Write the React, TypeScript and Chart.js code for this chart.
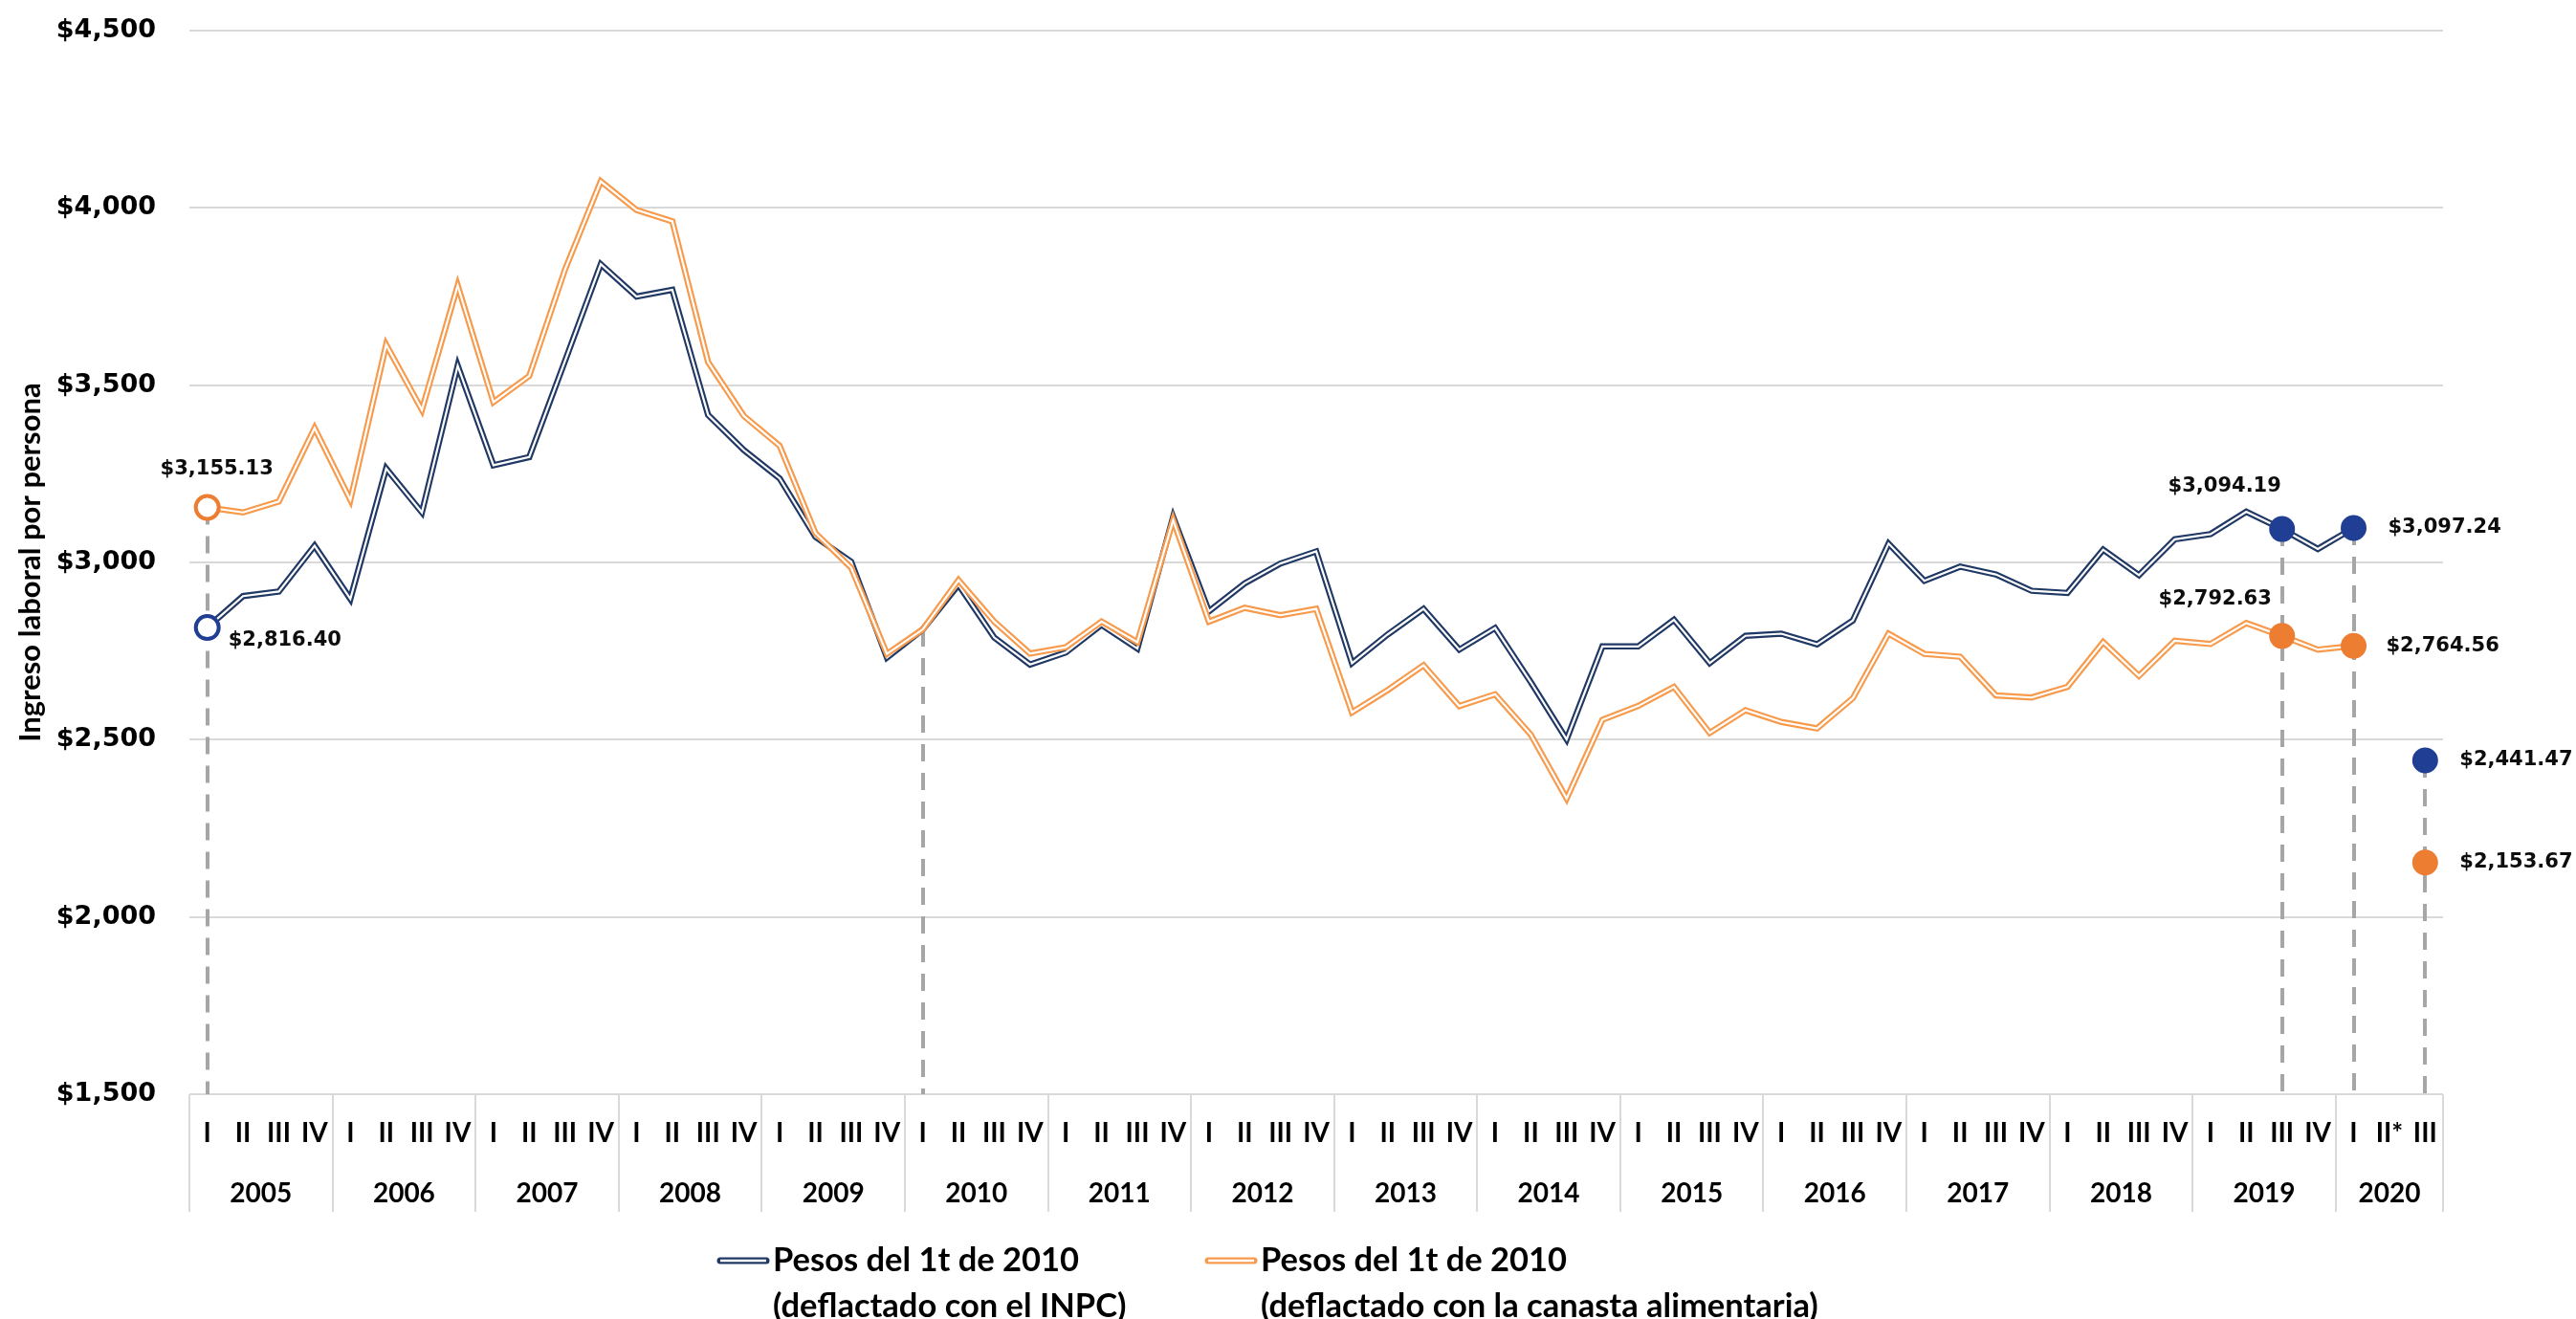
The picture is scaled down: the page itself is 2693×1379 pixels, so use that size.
import React, { useEffect, useRef } from 'react';
import { Chart, registerables } from 'chart.js';

Chart.register(...registerables);

const W = 2693;
const H = 1379;

// ---------- data ----------
const years = ['2005', '2006', '2007', '2008', '2009', '2010', '2011', '2012', '2013', '2014', '2015', '2016', '2017', '2018', '2019', '2020'];
const quarterNames = ['I', 'II', 'III', 'IV'];
const lastYearQuarters = ['I', 'II*', 'III'];

// Pesos del 1t de 2010 (deflactado con el INPC)
const inpcValues: (number | null)[] = [
  2816.40, 2905, 2918, 3047,
  2897, 3265, 3141, 3555,
  3274, 3297, 3568, 3841,
  3750, 3769, 3416, 3317,
  3237, 3072, 3002, 2732,
  2811, 2937, 2788, 2712,
  2746, 2824, 2757, 3128,
  2862, 2941, 2997, 3031,
  2716, 2797, 2869, 2754,
  2815, 2662, 2501, 2763,
  2763, 2838, 2716, 2793,
  2799, 2769, 2836, 3053,
  2948, 2988, 2966, 2920,
  2914, 3036, 2964, 3065,
  3080, 3143, 3094.19, 3038,
  3097.24, null, 2441.47,
];

// Pesos del 1t de 2010 (deflactado con la canasta alimentaria)
const canastaValues: (number | null)[] = [
  3155.13, 3141, 3172, 3379,
  3176, 3614, 3430, 3781,
  3452, 3526, 3826, 4075,
  3994, 3962, 3565, 3413,
  3329, 3083, 2985, 2742,
  2811, 2950, 2833, 2743,
  2761, 2833, 2775, 3119,
  2833, 2872, 2851, 2869,
  2577, 2640, 2710, 2595,
  2628, 2514, 2334, 2556,
  2595, 2649, 2519, 2583,
  2550, 2532, 2617, 2799,
  2742, 2734, 2625, 2619,
  2649, 2775, 2680, 2779,
  2770, 2829, 2792.63, 2754,
  2764.56, null, 2153.67,
];

const yMin = 1500;
const yMax = 4500;
const yStep = 500;

const axisTitle = 'Ingreso laboral por persona';
const seriesLegend = [
  ['Pesos del 1t de 2010', '(deflactado con el INPC)'],
  ['Pesos del 1t de 2010', '(deflactado con la canasta alimentaria)'],
];
const markedPoints = [0, 58, 60, 62];
const hollowPoints = [0];
const dropLinePoints = [0, 20, 58, 60, 62];

// ---------- derived category table ----------
const quarterLabels: string[] = [];
const yearOfLabel: string[] = [];
years.forEach((yr, k) => {
  const qs = k === years.length - 1 ? lastYearQuarters : quarterNames;
  qs.forEach((q) => {
    quarterLabels.push(q);
    yearOfLabel.push(yr);
  });
});

// ---------- styles ----------
const NAVY_LINE = '#1F3864';
const NAVY_MARK = '#203F94';
const ORANGE_LINE = '#F79A4C';
const ORANGE_MARK = '#ED7D31';
const GRID = '#D9D9D9';
const DROP = '#A6A6A6';
const LATO = 'Lato, "Liberation Sans", sans-serif';
const DEJAVU = '"DejaVu Sans", Verdana, sans-serif';

const labelPlacements = [
  { series: 0, index: 0, align: 'left', dx: 22, dy: 13 },
  { series: 1, index: 0, align: 'center', dx: 10, dy: -40 },
  { series: 0, index: 58, align: 'center', dx: -60, dy: -45 },
  { series: 1, index: 58, align: 'center', dx: -70, dy: -38 },
  { series: 0, index: 60, align: 'left', dx: 36, dy: 0 },
  { series: 1, index: 60, align: 'left', dx: 34, dy: 0 },
  { series: 0, index: 62, align: 'left', dx: 36, dy: 0 },
  { series: 1, index: 62, align: 'left', dx: 36, dy: 0 },
];

const fmtMoney = (v: number) =>
  '$' + v.toLocaleString('en-US', { minimumFractionDigits: 2, maximumFractionDigits: 2 });

const decorPlugin = {
  id: 'decor',
  beforeDatasetsDraw(chart: any) {
    const { ctx, chartArea, scales } = chart;
    const x = scales.x;
    const y = scales.y;
    ctx.save();
    ctx.strokeStyle = DROP;
    ctx.lineWidth = 4;
    ctx.setLineDash([18, 12]);
    dropLinePoints.forEach((i) => {
      const vals = [inpcValues[i], canastaValues[i]].filter((v) => v != null) as number[];
      const top = Math.max(...vals);
      const px = Math.round(x.getPixelForValue(i));
      ctx.beginPath();
      ctx.moveTo(px, y.getPixelForValue(top));
      ctx.lineTo(px, chartArea.bottom);
      ctx.stroke();
    });
    ctx.restore();
  },
  afterDraw(chart: any) {
    const { ctx, chartArea, scales } = chart;
    const x = scales.x;
    const y = scales.y;
    const step = x.getPixelForValue(1) - x.getPixelForValue(0);

    ctx.save();
    // year separators and year labels
    ctx.strokeStyle = GRID;
    ctx.lineWidth = 2;
    ctx.fillStyle = '#000';
    ctx.font = `bold 28px ${LATO}`;
    ctx.textAlign = 'center';
    ctx.textBaseline = 'middle';
    let start = 0;
    years.forEach((yr) => {
      let end = start;
      while (end + 1 < yearOfLabel.length && yearOfLabel[end + 1] === yr) end++;
      const left = x.getPixelForValue(start) - step / 2;
      ctx.beginPath();
      ctx.moveTo(Math.round(left), chartArea.bottom);
      ctx.lineTo(Math.round(left), chartArea.bottom + 123);
      ctx.stroke();
      const cx = (x.getPixelForValue(start) + x.getPixelForValue(end)) / 2;
      ctx.fillText(yr, cx, chartArea.bottom + 104);
      start = end + 1;
    });
    ctx.beginPath();
    ctx.moveTo(Math.round(chartArea.right), chartArea.bottom);
    ctx.lineTo(Math.round(chartArea.right), chartArea.bottom + 123);
    ctx.stroke();

    // y-axis title
    ctx.save();
    ctx.translate(32, (chartArea.top + chartArea.bottom) / 2);
    ctx.rotate(-Math.PI / 2);
    ctx.font = `bold 31px ${LATO}`;
    ctx.textAlign = 'center';
    ctx.textBaseline = 'middle';
    ctx.fillText(axisTitle, 0, 0);
    ctx.restore();

    // data labels
    ctx.font = `bold 21px ${DEJAVU}`;
    ctx.fillStyle = '#0D0D0D';
    ctx.textBaseline = 'middle';
    labelPlacements.forEach((p) => {
      const arr = p.series === 0 ? inpcValues : canastaValues;
      const v = arr[p.index];
      if (v == null) return;
      const px = x.getPixelForValue(p.index);
      const py = y.getPixelForValue(v);
      ctx.textAlign = p.align;
      ctx.fillText(fmtMoney(v), px + p.dx, py + p.dy);
    });

    // legend
    const legendX = [750, 1260];
    const colors = [NAVY_LINE, ORANGE_LINE];
    const row1 = 1318;
    const row2 = 1366;
    seriesLegend.forEach((lines, k) => {
      const lx = legendX[k];
      ctx.lineCap = 'round';
      ctx.strokeStyle = colors[k];
      ctx.lineWidth = 7;
      ctx.beginPath();
      ctx.moveTo(lx + 3, row1);
      ctx.lineTo(lx + 51, row1);
      ctx.stroke();
      ctx.lineCap = 'butt';
      ctx.strokeStyle = '#fff';
      ctx.lineWidth = 2.5;
      ctx.beginPath();
      ctx.moveTo(lx + 3, row1);
      ctx.lineTo(lx + 51, row1);
      ctx.stroke();
      ctx.fillStyle = '#000';
      ctx.font = `bold 34.5px ${LATO}`;
      ctx.textAlign = 'left';
      ctx.textBaseline = 'middle';
      ctx.fillText(lines[0], lx + 58, row1);
      ctx.fillText(lines[1], lx + 58, row2);
    });
    ctx.restore();
  },
};

export default function App() {
  const canvasRef = useRef<HTMLCanvasElement | null>(null);

  useEffect(() => {
    document.body.style.margin = '0';
    const canvas = canvasRef.current;
    if (!canvas) return;

    const markerRadius = (c: any) =>
      markedPoints.includes(c.dataIndex) ? (hollowPoints.includes(c.dataIndex) ? 12 : 13.5) : 0;
    const markerBorder = (c: any) => (hollowPoints.includes(c.dataIndex) ? 4 : 0);

    const chart = new Chart(canvas, {
      type: 'line',
      data: {
        labels: quarterLabels,
        datasets: [
          {
            label: 'inpc-marks',
            data: inpcValues,
            showLine: false,
            pointRadius: markerRadius,
            pointBorderWidth: markerBorder,
            pointBorderColor: NAVY_MARK,
            pointBackgroundColor: (c: any) => (hollowPoints.includes(c.dataIndex) ? '#fff' : NAVY_MARK),
            order: 0,
          },
          {
            label: 'canasta-marks',
            data: canastaValues,
            showLine: false,
            pointRadius: markerRadius,
            pointBorderWidth: markerBorder,
            pointBorderColor: ORANGE_MARK,
            pointBackgroundColor: (c: any) => (hollowPoints.includes(c.dataIndex) ? '#fff' : ORANGE_MARK),
            order: 0,
          },
          {
            label: 'canasta-inner',
            data: canastaValues,
            borderColor: '#FFFFFF',
            borderWidth: 2.2,
            pointRadius: 0,
            order: 1,
          },
          {
            label: seriesLegend[1].join(' '),
            data: canastaValues,
            borderColor: ORANGE_LINE,
            borderWidth: 6.5,
            pointRadius: 0,
            order: 2,
          },
          {
            label: 'inpc-inner',
            data: inpcValues,
            borderColor: '#FFFFFF',
            borderWidth: 2.2,
            pointRadius: 0,
            order: 3,
          },
          {
            label: seriesLegend[0].join(' '),
            data: inpcValues,
            borderColor: NAVY_LINE,
            borderWidth: 6.5,
            pointRadius: 0,
            order: 4,
          },
        ],
      },
      options: {
        responsive: false,
        maintainAspectRatio: false,
        animation: false,
        events: [],
        layout: { padding: { left: 0, right: W - 2554, top: 32, bottom: 0 } },
        plugins: {
          legend: { display: false },
          tooltip: { enabled: false },
          title: { display: false },
        },
        scales: {
          x: {
            type: 'category',
            offset: true,
            grid: { display: false, drawTicks: false },
            border: { display: false },
            ticks: {
              autoSkip: false,
              maxRotation: 0,
              minRotation: 0,
              padding: 24,
              color: '#000',
              font: { family: LATO, size: 28, weight: 'bold' },
            },
            afterFit: (s: any) => {
              s.height = H - 1144;
            },
          },
          y: {
            min: yMin,
            max: yMax,
            grid: { color: GRID, lineWidth: 2, drawTicks: false },
            border: { display: false },
            ticks: {
              stepSize: yStep,
              padding: 35,
              color: '#000',
              font: { family: DEJAVU, size: 27, weight: 'bold' },
              callback: (v: any) => '$' + Number(v).toLocaleString('en-US'),
            },
            afterFit: (s: any) => {
              s.width = 198;
              s.paddingTop = 0;
              s.paddingBottom = 0;
            },
          },
        },
      },
      plugins: [decorPlugin],
    } as any);

    return () => chart.destroy();
  }, []);

  return (
    <div style={{ width: W, height: H, position: 'relative', background: '#fff' }}>
      <canvas ref={canvasRef} width={W} height={H} style={{ display: 'block', width: W, height: H }} />
    </div>
  );
}
